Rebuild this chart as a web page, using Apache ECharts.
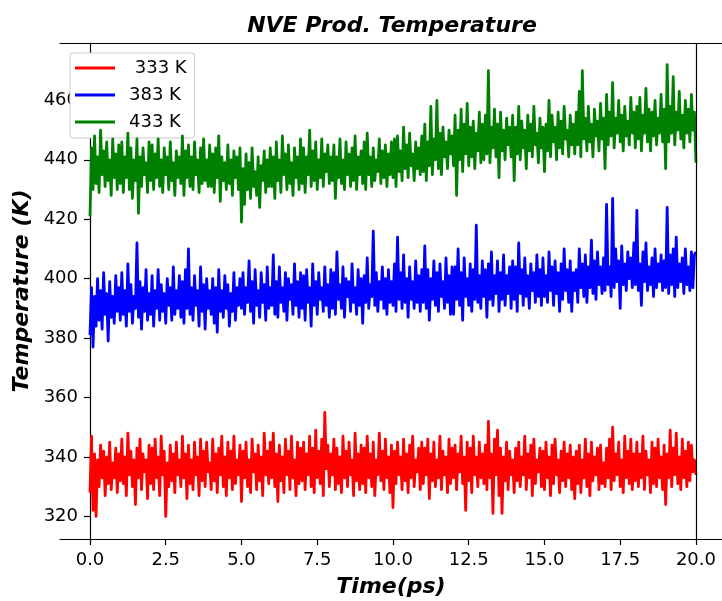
<!DOCTYPE html>
<html>
<head>
<meta charset="utf-8">
<script src="https://cdn.jsdelivr.net/npm/echarts@6/dist/echarts.min.js"></script>
<style>
html,body{margin:0;padding:0;background:#fff;}
#chart{width:722px;height:601px;}
</style>
</head>
<body>
<div id="chart"></div>
<script>
const timeStep = 0.05; // ps between samples
const seriesNames = [' 333 K', '383 K', '433 K'];
const xTicks = [0, 2.5, 5, 7.5, 10, 12.5, 15, 17.5, 20];
const yTicks = [320, 340, 360, 380, 400, 420, 440, 460];

const temp333 = [
328,347,322,341,320,339,330,344,333,342,327,340,331,345,329,338,333,343,328,341,
332,346,331,340,327,348,334,342,330,339,324,343,333,346,329,341,335,339,326,344,
331,343,329,346,333,340,327,347,334,342,320,338,330,344,332,341,328,345,334,339,
330,347,333,341,326,344,331,339,329,345,334,340,327,346,332,342,330,345,335,338,
329,346,332,341,328,343,334,347,330,340,327,345,333,342,329,347,331,339,334,344,
325,342,333,345,330,339,328,346,335,341,329,344,332,340,327,348,334,342,331,345,
333,348,330,341,325,344,332,340,328,346,334,342,329,347,333,339,327,345,331,343,
332,345,329,341,334,347,330,343,328,349,333,342,331,346,327,355,336,344,330,341,
334,346,329,343,331,340,328,347,333,342,330,345,334,339,327,348,332,341,329,344,
331,343,328,347,333,341,330,345,327,339,334,348,332,342,329,346,333,340,328,344,
323,342,331,345,334,340,329,346,332,341,328,344,333,347,330,339,335,343,329,345,
331,343,334,346,326,341,332,345,330,339,333,347,329,342,334,340,328,346,331,343,
333,344,329,341,335,347,331,340,322,345,332,343,328,347,334,340,330,345,333,341,
331,344,329,352,333,341,321,346,334,349,327,343,321,340,332,345,329,342,334,339,
328,343,332,345,330,340,334,347,329,341,333,344,327,346,331,339,335,343,330,342,
329,345,333,340,327,344,331,346,334,339,328,342,332,345,330,341,333,344,329,340,
326,342,331,344,328,339,333,346,330,341,327,345,332,340,334,343,329,344,331,338,
330,343,333,346,329,350,332,341,334,345,330,339,328,347,333,342,331,346,329,341,
332,345,330,341,333,347,329,342,334,339,328,345,331,343,330,346,333,340,329,344,
324,341,333,349,330,343,334,348,331,340,329,346,333,342,330,345,332,344,335,339,
334
];

const temp383 = [
381,397,377,394,384,400,386,396,383,402,388,395,379,399,387,394,385,401,389,397,
386,402,388,396,384,405,389,398,385,394,390,412,387,399,383,397,389,403,386,395,
388,401,384,396,390,403,386,398,389,395,385,400,391,397,386,404,388,396,390,401,
387,399,385,403,390,410,388,397,386,401,391,396,384,404,389,398,383,400,390,396,
388,400,385,397,382,403,389,396,387,401,390,398,384,395,389,402,386,397,391,400,
390,402,388,397,392,406,389,399,385,403,391,396,387,402,392,398,386,404,390,397,
391,408,388,399,387,404,392,397,389,402,386,400,393,398,388,405,391,399,387,402,
390,401,386,403,392,397,384,405,391,399,388,402,393,397,389,404,391,398,387,403,
390,402,388,409,393,398,390,404,387,400,394,399,389,405,392,397,388,403,391,400,
385,401,392,407,390,398,394,416,391,402,389,399,393,404,390,400,388,403,392,399,
391,405,389,414,393,402,390,408,392,400,387,404,393,399,390,406,392,401,389,403,
392,411,390,403,386,400,393,406,391,402,389,405,394,399,390,407,392,401,388,404,
388,404,393,410,391,402,386,407,394,400,391,405,389,403,393,418,392,401,390,406,
394,403,387,405,393,409,391,401,395,406,389,402,393,408,391,401,395,404,390,406,
393,404,389,412,395,403,391,407,394,401,390,405,396,402,392,408,394,403,391,407,
394,401,392,409,396,404,391,406,395,402,389,405,393,410,396,403,392,406,389,402,
396,403,392,410,397,405,394,408,392,404,397,413,395,406,393,409,398,404,395,407,
396,425,398,404,394,427,397,410,399,406,390,411,398,405,396,409,400,407,397,412,
398,423,396,405,391,409,399,412,396,404,398,407,394,410,397,405,399,408,396,406,
397,424,395,408,398,410,394,414,397,405,399,407,395,410,398,404,396,409,397,408,
409
];

const temp433 = [
421,444,430,448,432,441,429,450,435,443,431,446,433,440,428,447,434,442,430,445,
432,446,429,441,434,449,430,444,427,440,433,447,422,441,431,444,435,439,429,446,
433,445,430,442,434,447,431,440,429,444,435,441,430,446,433,439,428,443,434,441,
432,448,428,443,434,445,431,441,430,446,435,440,429,444,432,447,433,440,431,445,
431,442,429,444,434,448,426,441,433,439,430,445,432,440,428,443,434,441,430,444,
419,437,425,442,430,439,427,444,431,436,428,441,424,438,433,443,429,440,431,444,
431,441,427,446,433,440,429,448,435,442,430,445,432,439,428,444,434,441,430,447,
432,444,429,441,435,450,431,443,433,446,430,440,434,447,431,442,436,445,432,441,
433,445,427,441,434,447,432,440,430,446,435,442,431,444,433,448,430,441,435,443,
432,446,430,449,435,441,431,444,433,440,436,447,432,443,434,445,431,442,435,446,
434,447,431,448,436,443,433,451,437,445,434,449,438,442,433,446,437,444,435,448,
436,452,433,446,438,458,435,447,440,460,437,449,435,451,441,446,437,450,442,448,
438,455,428,450,440,457,436,452,442,459,438,451,441,453,437,449,443,456,439,452,
440,455,442,470,439,451,444,457,441,452,434,456,443,450,440,454,445,451,441,455,
433,451,442,458,440,453,444,450,437,455,443,452,441,458,445,449,439,454,444,451,
436,452,443,460,441,455,446,451,440,456,444,453,442,458,447,450,441,455,445,452,
442,456,445,463,441,470,447,454,443,458,446,452,441,457,448,453,443,459,447,454,
437,462,445,456,448,466,444,454,449,460,446,455,443,458,448,453,445,461,449,456,
444,458,447,461,443,455,449,464,446,457,443,456,448,460,445,454,449,462,446,457,
437,472,446,458,449,468,445,456,450,463,447,455,444,460,449,457,446,462,450,456,
439
];

const colors = ['#ff0000', '#0000ff', '#008000'];
const FONT = 'DejaVu Sans';

function pairs(vals) {
  return vals.map((v, i) => [+(i * timeStep).toFixed(3), v]);
}

const xMin = -0.99, xMax = 20.86, yMin = 312.4, yMax = 479.3;
const gridLeft = 60, gridRight = 0, chartWidth = 722;
// shift the y axis (line, ticks, labels) inward so it sits at time = 0
const yAxisShift = (0 - xMin) / (xMax - xMin) * (chartWidth - gridLeft - gridRight);

const chart = echarts.init(document.getElementById('chart'), null, {renderer: 'canvas'});
const allVals = [temp333, temp383, temp433];

chart.setOption({
  animation: false,
  backgroundColor: '#fff',
  title: {
    text: 'NVE Prod. Temperature',
    left: 392,
    top: 15,
    textAlign: 'center',
    padding: 0,
    textStyle: {fontFamily: FONT, fontSize: 22, fontWeight: 'bold', fontStyle: 'italic', color: '#000'}
  },
  legend: {
    orient: 'vertical',
    left: 70,
    top: 53,
    padding: [6, 8, 7, 5],
    itemGap: 9,
    itemWidth: 40,
    itemHeight: 3,
    icon: 'rect',
    backgroundColor: '#fff',
    borderColor: '#cccccc',
    borderWidth: 1,
    borderRadius: 3,
    data: seriesNames,
    textStyle: {fontFamily: FONT, fontSize: 18, color: '#000', lineHeight: 18, padding: [0, 0, 0, 9]}
  },
  grid: {left: gridLeft, right: gridRight, top: 43, bottom: 62, containLabel: false, outerBoundsMode: 'none'},
  xAxis: [{
    type: 'value',
    min: xMin, max: xMax,
    name: 'Time(ps)',
    nameLocation: 'middle',
    nameGap: 37,
    nameMoveOverlap: false,
    nameTextStyle: {fontFamily: FONT, fontSize: 22, fontWeight: 'bold', fontStyle: 'italic', color: '#000'},
    axisLine: {show: true, onZero: false, lineStyle: {color: '#000', width: 1.2}},
    axisTick: {show: true, length: 6, customValues: xTicks, lineStyle: {color: '#000', width: 1.2}},
    axisLabel: {show: true, margin: 12, customValues: xTicks, fontFamily: FONT, fontSize: 18, color: '#000',
      formatter: v => v.toFixed(1)},
    splitLine: {show: false}
  }, {
    type: 'value',
    position: 'top',
    min: xMin, max: xMax,
    axisLine: {show: true, onZero: false, lineStyle: {color: '#000', width: 1.2}},
    axisTick: {show: false},
    axisLabel: {show: false},
    splitLine: {show: false}
  }],
  yAxis: {
    type: 'value',
    min: yMin, max: yMax,
    offset: -yAxisShift,
    name: 'Temperature (K)',
    nameLocation: 'middle',
    nameGap: 57,
    nameMoveOverlap: false,
    nameTextStyle: {fontFamily: FONT, fontSize: 22, fontWeight: 'bold', fontStyle: 'italic', color: '#000'},
    axisLine: {show: true, onZero: false, lineStyle: {color: '#000', width: 1.2}},
    axisTick: {show: true, length: 6, customValues: yTicks, lineStyle: {color: '#000', width: 1.2}},
    axisLabel: {show: true, margin: 12, customValues: yTicks, fontFamily: FONT, fontSize: 18, color: '#000'},
    splitLine: {show: false}
  },
  series: seriesNames.map((name, k) => ({
    name: name,
    type: 'line',
    xAxisIndex: 0,
    yAxisIndex: 0,
    data: pairs(allVals[k]),
    showSymbol: false,
    symbol: 'none',
    lineStyle: {color: colors[k], width: 2.8, join: 'round'},
    itemStyle: {color: colors[k]},
    z: 2 + k,
    markLine: k === 0 ? {
      silent: true,
      symbol: 'none',
      label: {show: false},
      lineStyle: {color: '#000', width: 1.2, type: 'solid'},
      data: [{xAxis: 20}]
    } : undefined
  }))
});
</script>
</body>
</html>
